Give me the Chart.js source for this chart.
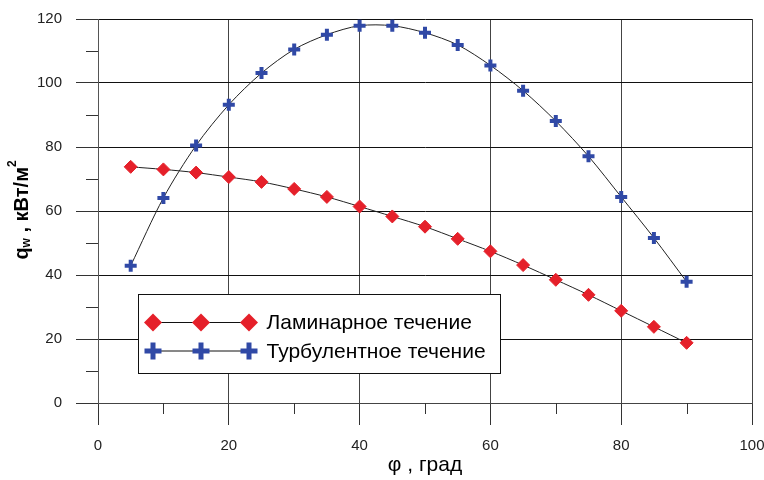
<!DOCTYPE html>
<html lang="ru">
<head>
    <meta charset="UTF-8">
    <title>q_w vs φ</title>
    <style>
        body {
            margin: 0;
            background: #ffffff;
        }
        .wrap {
            width: 764px;
            height: 480px;
        }
    </style>
</head>
<body>
    <div class="wrap">
        <canvas id="heatChart" width="764" height="480"></canvas>
    </div>

    <script src="https://cdn.jsdelivr.net/npm/chart.js"></script>
    <script>
        // angle, degrees
        const angles = [5, 10, 15, 20, 25, 30, 35, 40, 45, 50, 55, 60, 65, 70, 75, 80, 85, 90];
        // heat flux q_w, kW/m2
        const laminar = [73.8, 73.0, 72.0, 70.6, 69.1, 66.9, 64.4, 61.4, 58.3, 55.1, 51.3, 47.4, 43.1, 38.5, 33.8, 28.8, 23.8, 18.8];
        const turbulent = [42.9, 64.1, 80.5, 93.2, 103.1, 110.5, 115.1, 117.9, 117.9, 115.7, 111.9, 105.5, 97.6, 88.1, 77.1, 64.4, 51.6, 37.9];
        const seriesNames = ['Ламинарное течение', 'Турбулентное течение'];
        const xTitle = 'φ , град';

        const RED = '#e5202a';
        const BLUE = '#3049a6';

        function toPoints(ys) {
            return angles.map((a, i) => ({ x: a, y: ys[i] }));
        }

        function diamond(ctx, x, y, r) {
            ctx.beginPath();
            ctx.moveTo(x - r, y);
            ctx.lineTo(x, y - r);
            ctx.lineTo(x + r, y);
            ctx.lineTo(x, y + r);
            ctx.closePath();
            ctx.fillStyle = RED;
            ctx.fill();
        }

        function plus(ctx, x, y, r, w) {
            ctx.beginPath();
            ctx.moveTo(x - r, y);
            ctx.lineTo(x + r, y);
            ctx.moveTo(x, y - r);
            ctx.lineTo(x, y + r);
            ctx.strokeStyle = BLUE;
            ctx.lineWidth = w;
            ctx.stroke();
        }

        // minor ticks, legend box and y title
        const decor = {
            id: 'decor',
            afterDatasetsDraw(chart) {
                const ctx = chart.ctx;
                const area = chart.chartArea;
                const xs = chart.scales.x;
                const ys = chart.scales.y;
                ctx.save();

                // minor ticks
                ctx.strokeStyle = '#333';
                ctx.lineWidth = 1;
                ctx.beginPath();
                for (let v = 10; v < 120; v += 20) {
                    const py = Math.round(ys.getPixelForValue(v)) + 0.5;
                    ctx.moveTo(area.left - 12, py);
                    ctx.lineTo(area.left, py);
                }
                for (let v = 10; v < 100; v += 20) {
                    const px = Math.round(xs.getPixelForValue(v)) + 0.5;
                    ctx.moveTo(px, area.bottom);
                    ctx.lineTo(px, area.bottom + 11);
                }
                ctx.stroke();

                // legend
                const lx = area.left + 40.5;
                const ly = area.top + 275.5;
                ctx.fillStyle = '#fff';
                ctx.fillRect(lx, ly, 362, 79);
                ctx.strokeStyle = '#111';
                ctx.lineWidth = 1;
                ctx.strokeRect(lx, ly, 362, 79);

                const rows = [ly + 28, ly + 56.5];
                const mx = [lx + 14.5, lx + 62.5, lx + 110.5];
                rows.forEach((ry, i) => {
                    ctx.beginPath();
                    ctx.moveTo(mx[0], ry);
                    ctx.lineTo(mx[2], ry);
                    ctx.strokeStyle = '#111';
                    ctx.lineWidth = 1;
                    ctx.stroke();
                    mx.forEach(px => {
                        if (i === 0) diamond(ctx, px, ry, 9);
                        else plus(ctx, px, ry, 8.5, 5);
                    });
                    ctx.fillStyle = '#000';
                    ctx.font = '21px "Liberation Sans", Arial, sans-serif';
                    ctx.textBaseline = 'middle';
                    ctx.textAlign = 'left';
                    ctx.fillText(seriesNames[i], lx + 128, ry + 1);
                });

                // y title: q_w , кВт/м²
                const big = 'bold 20px "Liberation Sans", Arial, sans-serif';
                const small = 'bold 12px "Liberation Sans", Arial, sans-serif';
                const parts = [
                    { t: 'q', f: big, dy: 0 },
                    { t: 'w', f: small, dy: 5 },
                    { t: ' , кВт/м', f: big, dy: 0 },
                    { t: '2', f: small, dy: -9 }
                ];
                let total = 0;
                parts.forEach(p => { ctx.font = p.f; p.w = ctx.measureText(p.t).width; total += p.w; });
                ctx.translate(22, 210);
                ctx.rotate(-Math.PI / 2);
                ctx.fillStyle = '#000';
                ctx.textBaseline = 'middle';
                ctx.textAlign = 'left';
                let cx = -total / 2;
                parts.forEach(p => {
                    ctx.font = p.f;
                    ctx.fillText(p.t, cx, p.dy);
                    cx += p.w;
                });
                ctx.restore();
            }
        };

        const ctx = document.getElementById('heatChart').getContext('2d');

        const chart = new Chart(ctx, {
            type: 'line',
            data: {
                datasets: [
                    {
                        label: seriesNames[0],
                        data: toPoints(laminar),
                        borderColor: '#222',
                        borderWidth: 1,
                        tension: 0.3,
                        pointStyle: 'rectRot',
                        pointRadius: 6.5,
                        pointBackgroundColor: RED,
                        pointBorderColor: RED,
                        pointBorderWidth: 1
                    },
                    {
                        label: seriesNames[1],
                        data: toPoints(turbulent),
                        borderColor: '#222',
                        borderWidth: 1,
                        tension: 0.3,
                        pointStyle: 'cross',
                        pointRadius: 6,
                        pointBorderColor: BLUE,
                        pointBorderWidth: 4
                    }
                ]
            },
            options: {
                responsive: false,
                animation: false,
                layout: {
                    padding: { top: 19, right: 12, left: 0, bottom: 0 }
                },
                plugins: {
                    legend: { display: false },
                    tooltip: { enabled: false }
                },
                scales: {
                    x: {
                        type: 'linear',
                        min: 0,
                        max: 100,
                        ticks: {
                            stepSize: 20,
                            color: '#222',
                            padding: 12,
                            maxRotation: 0,
                            font: { family: '"Liberation Sans", Arial, sans-serif', size: 15 }
                        },
                        grid: { color: '#444', tickLength: 22, tickColor: '#333' },
                        border: { color: '#444' },
                        title: {
                            display: true,
                            text: xTitle,
                            color: '#000',
                            padding: { top: 4, bottom: 2 },
                            font: { family: '"Liberation Sans", Arial, sans-serif', size: 21 }
                        },
                        afterFit(scale) {
                            scale.height = 77;
                            scale.paddingLeft = 0;
                            scale.paddingRight = 0;
                        }
                    },
                    y: {
                        min: 0,
                        max: 120,
                        ticks: {
                            stepSize: 20,
                            color: '#222',
                            padding: 14,
                            font: { family: '"Liberation Sans", Arial, sans-serif', size: 15 }
                        },
                        grid: { color: '#111', tickLength: 22, tickColor: '#333' },
                        border: { color: '#555' },
                        afterFit(scale) {
                            scale.width = 98;
                            scale.paddingTop = 0;
                            scale.paddingBottom = 0;
                        }
                    }
                }
            },
            plugins: [decor]
        });
    </script>
</body>
</html>
